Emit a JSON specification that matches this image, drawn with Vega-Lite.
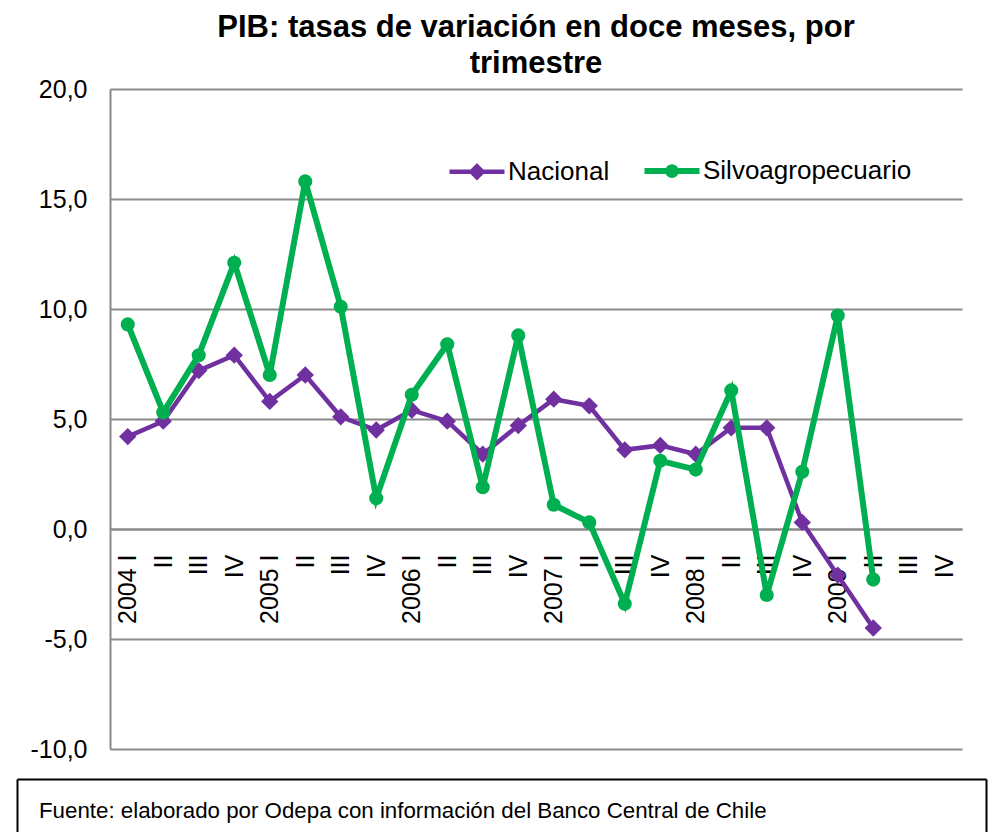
{
  "$schema": "https://vega.github.io/schema/vega-lite/v6.json",
  "padding": {"left": 0, "top": 12, "right": 0, "bottom": 0},
  "background": "white",
  "config": {"font": "Liberation Sans"},
  "center": true,
  "bounds": "flush",
  "spacing": 30,
  "datasets": {
    "pib": [
      {"q": "2004 I", "serie": "Nacional", "v": 4.2},
      {"q": "2004 II", "serie": "Nacional", "v": 4.9},
      {"q": "2004 III", "serie": "Nacional", "v": 7.2},
      {"q": "2004 IV", "serie": "Nacional", "v": 7.9},
      {"q": "2005 I", "serie": "Nacional", "v": 5.8},
      {"q": "2005 II", "serie": "Nacional", "v": 7.0},
      {"q": "2005 III", "serie": "Nacional", "v": 5.1},
      {"q": "2005 IV", "serie": "Nacional", "v": 4.5},
      {"q": "2006 I", "serie": "Nacional", "v": 5.4},
      {"q": "2006 II", "serie": "Nacional", "v": 4.9},
      {"q": "2006 III", "serie": "Nacional", "v": 3.4},
      {"q": "2006 IV", "serie": "Nacional", "v": 4.7},
      {"q": "2007 I", "serie": "Nacional", "v": 5.9},
      {"q": "2007 II", "serie": "Nacional", "v": 5.6},
      {"q": "2007 III", "serie": "Nacional", "v": 3.6},
      {"q": "2007 IV", "serie": "Nacional", "v": 3.8},
      {"q": "2008 I", "serie": "Nacional", "v": 3.4},
      {"q": "2008 II", "serie": "Nacional", "v": 4.6},
      {"q": "2008 III", "serie": "Nacional", "v": 4.6},
      {"q": "2008 IV", "serie": "Nacional", "v": 0.3},
      {"q": "2009 I", "serie": "Nacional", "v": -2.1},
      {"q": "2009 II", "serie": "Nacional", "v": -4.5},
      {"q": "2004 I", "serie": "Silvoagropecuario", "v": 9.3},
      {"q": "2004 II", "serie": "Silvoagropecuario", "v": 5.3},
      {"q": "2004 III", "serie": "Silvoagropecuario", "v": 7.9},
      {"q": "2004 IV", "serie": "Silvoagropecuario", "v": 12.1},
      {"q": "2005 I", "serie": "Silvoagropecuario", "v": 7.0},
      {"q": "2005 II", "serie": "Silvoagropecuario", "v": 15.8},
      {"q": "2005 III", "serie": "Silvoagropecuario", "v": 10.1},
      {"q": "2005 IV", "serie": "Silvoagropecuario", "v": 1.4},
      {"q": "2006 I", "serie": "Silvoagropecuario", "v": 6.1},
      {"q": "2006 II", "serie": "Silvoagropecuario", "v": 8.4},
      {"q": "2006 III", "serie": "Silvoagropecuario", "v": 1.9},
      {"q": "2006 IV", "serie": "Silvoagropecuario", "v": 8.8},
      {"q": "2007 I", "serie": "Silvoagropecuario", "v": 1.1},
      {"q": "2007 II", "serie": "Silvoagropecuario", "v": 0.3},
      {"q": "2007 III", "serie": "Silvoagropecuario", "v": -3.4},
      {"q": "2007 IV", "serie": "Silvoagropecuario", "v": 3.1},
      {"q": "2008 I", "serie": "Silvoagropecuario", "v": 2.7},
      {"q": "2008 II", "serie": "Silvoagropecuario", "v": 6.3},
      {"q": "2008 III", "serie": "Silvoagropecuario", "v": -3.0},
      {"q": "2008 IV", "serie": "Silvoagropecuario", "v": 2.6},
      {"q": "2009 I", "serie": "Silvoagropecuario", "v": 9.7},
      {"q": "2009 II", "serie": "Silvoagropecuario", "v": -2.3}
    ],
    "fuente": [
      {"t": "Fuente: elaborado por Odepa con información del Banco Central de Chile"}
    ]
  },
  "vconcat": [
    {
      "width": 852,
      "height": 660,
      "view": {"stroke": null},
      "title": {
        "text": ["PIB: tasas de variación en doce meses, por", "trimestre"],
        "fontSize": 31,
        "fontWeight": "bold",
        "lineHeight": 36,
        "frame": "group",
        "anchor": "middle",
        "offset": -3,
        "color": "black",
        "font": "Liberation Sans"
      },
      "data": {"name": "pib"},
      "encoding": {
        "x": {
          "field": "q",
          "type": "ordinal",
          "scale": {
            "domain": ["2004 I", "2004 II", "2004 III", "2004 IV", "2005 I", "2005 II", "2005 III", "2005 IV", "2006 I", "2006 II", "2006 III", "2006 IV", "2007 I", "2007 II", "2007 III", "2007 IV", "2008 I", "2008 II", "2008 III", "2008 IV", "2009 I", "2009 II", "2009 III", "2009 IV"],
            "padding": 0.5
          },
          "axis": {
            "title": null,
            "orient": "bottom",
            "offset": -220,
            "labelAngle": -90,
            "labelAlign": "right",
            "labelBaseline": "middle",
            "labelFontSize": 25,
            "labelColor": "black",
            "labelFont": "Liberation Sans",
            "ticks": false,
            "tickSize": 0,
            "labelPadding": 25,
            "labelOverlap": false,
            "domainColor": "#898989",
            "domainWidth": 2,
            "grid": false,
            "labelExpr": "slice(datum.value, 5) === 'I' ? datum.value : slice(datum.value, 5)"
          }
        },
        "y": {
          "field": "v",
          "type": "quantitative",
          "scale": {"domain": [-10, 20], "nice": false, "zero": false},
          "axis": {
            "title": null,
            "values": [-10, -5, 0, 5, 10, 15, 20],
            "labelExpr": "(datum.value < 0 ? '-' : '') + replace(format(abs(datum.value), '.1f'), '.', ',')",
            "labelFontSize": 25,
            "labelColor": "black",
            "labelFont": "Liberation Sans",
            "ticks": false,
            "tickSize": 0,
            "labelPadding": 23,
            "domainColor": "#898989",
            "domainWidth": 2,
            "gridColor": "#898989",
            "gridWidth": 2,
            "minExtent": 93,
            "maxExtent": 93
          }
        },
        "color": {
          "field": "serie",
          "type": "nominal",
          "scale": {"domain": ["Nacional", "Silvoagropecuario"], "range": ["#7030A0", "#00B050"]},
          "legend": {
            "orient": "none",
            "legendX": 447,
            "legendY": 69,
            "direction": "horizontal",
            "title": null,
            "labelFontSize": 26,
            "labelColor": "black",
            "labelFont": "Liberation Sans",
            "labelLimit": 400,
            "symbolSize": 3025,
            "symbolStrokeWidth": 4.5,
            "labelOffset": 18,
            "columnPadding": 22,
            "padding": 0,
            "encode": {
              "symbols": {
                "update": {
                  "shape": {"signal": "datum.value === 'Nacional' ? 'M-1,0L1,0M0,-0.2L0.2,0L0,0.2L-0.2,0Z' : 'M-1,0L1,0M-0.14,0A0.14,0.14,0,1,0,0.14,0A0.14,0.14,0,1,0,-0.14,0Z'"},
                  "fill": {"signal": "scale('color', datum.value)"},
                  "stroke": {"signal": "scale('color', datum.value)"},
                  "strokeWidth": {"signal": "datum.value === 'Nacional' ? 4.5 : 6"},
                  "opacity": {"value": 1},
                  "fillOpacity": {"value": 1}
                }
              }
            }
          }
        }
      },
      "layer": [
        {
          "transform": [{"filter": "datum.serie === 'Nacional'"}],
          "mark": {"type": "line", "strokeWidth": 4.5}
        },
        {
          "transform": [{"filter": "datum.serie === 'Nacional'"}],
          "mark": {"type": "point", "shape": "diamond", "filled": true, "size": 300, "opacity": 1}
        },
        {
          "transform": [{"filter": "datum.serie === 'Silvoagropecuario'"}],
          "mark": {"type": "line", "strokeWidth": 6}
        },
        {
          "transform": [{"filter": "datum.serie === 'Silvoagropecuario'"}],
          "mark": {"type": "point", "shape": "circle", "filled": true, "size": 200, "opacity": 1}
        }
      ]
    },
    {
      "width": 1038,
      "height": 64,
      "view": {"stroke": null},
      "data": {"name": "fuente"},
      "resolve": {"axis": {"x": "independent", "y": "independent"}},
      "layer": [
        {
          "mark": {"type": "text", "align": "left", "baseline": "middle", "fontSize": 22.3, "color": "black", "dx": 22, "font": "Liberation Sans"},
          "encoding": {
            "text": {"field": "t", "type": "nominal"},
            "x": {"datum": 0, "type": "quantitative", "scale": {"domain": [0, 1], "range": [0, 969]},
              "axis": {"orient": "bottom", "title": null, "labels": false, "ticks": false, "grid": false, "domainColor": "black", "domainWidth": 2, "minExtent": 0, "maxExtent": 0}},
            "y": {"datum": 0.5, "type": "quantitative", "scale": {"domain": [0, 1]},
              "axis": {"orient": "left", "title": null, "labels": false, "ticks": false, "grid": false, "domainColor": "black", "domainWidth": 2, "minExtent": 0, "maxExtent": 0}}
          }
        },
        {
          "mark": {"type": "text", "opacity": 0, "fontSize": 1},
          "encoding": {
            "text": {"field": "t", "type": "nominal"},
            "x": {"datum": 0, "type": "quantitative",
              "axis": {"orient": "top", "title": null, "labels": false, "ticks": false, "grid": false, "domainColor": "black", "domainWidth": 2, "minExtent": 0, "maxExtent": 0}},
            "y": {"datum": 0.5, "type": "quantitative",
              "axis": {"orient": "right", "offset": -69, "title": null, "labels": false, "ticks": false, "grid": false, "domainColor": "black", "domainWidth": 2, "minExtent": 0, "maxExtent": 0}}
          }
        }
      ]
    }
  ]
}
